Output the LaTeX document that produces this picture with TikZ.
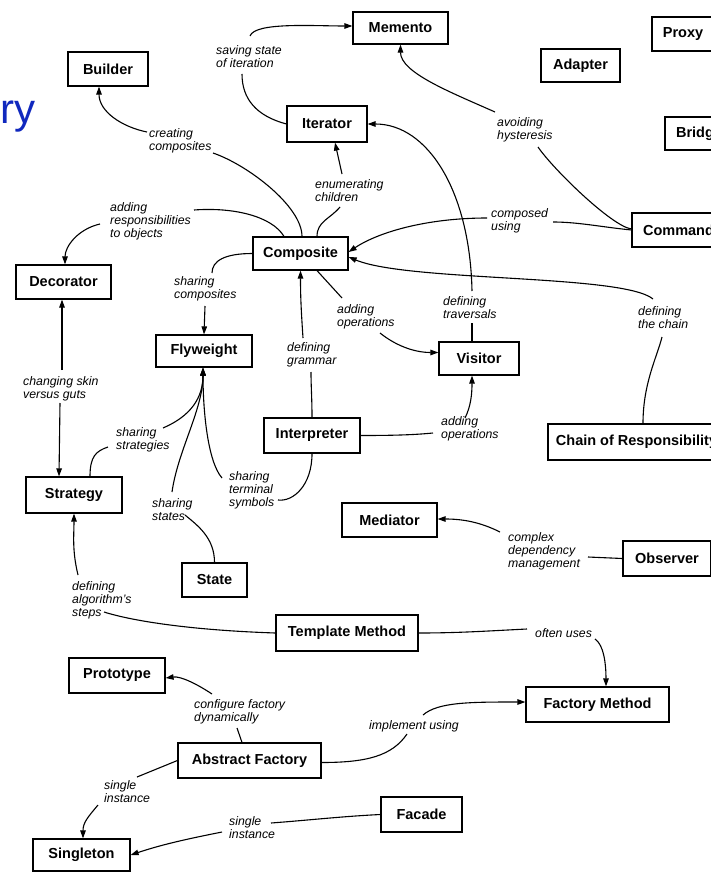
\documentclass[tikz,border=0pt]{standalone}
\usepackage{fontspec}
\setmainfont{Liberation Sans}
\usetikzlibrary{arrows.meta}
\definecolor{titleblue}{RGB}{16,40,190}
\begin{document}
\begin{tikzpicture}[x=1pt,y=-1pt,
  pat/.style={draw, line width=1.2pt, font=\bfseries\fontsize{14.5}{16}\selectfont,
              minimum height=34pt, inner sep=0pt},
  lab/.style={font=\itshape\fontsize{12.3}{13}\selectfont, align=left,
              inner sep=0pt, anchor=west},
  link/.style={line width=1.1pt},
  arr/.style={link, -{Triangle[length=8pt,width=5.5pt]}}]
\useasboundingbox (0,0) rectangle (711,872);
\clip (0,0) rectangle (711,872);

% partial heading at the left edge
\node[anchor=base west, inner sep=0pt, font=\fontsize{42}{42}\selectfont,
      text=titleblue] (ttl) at (0,124) {ry};

% ---- patterns ----
\node[pat, minimum width=95pt, minimum height=32pt] (mem)   at (400.5,28)  {Memento};
\node[pat, minimum width=62pt]                      (proxy) at (683,34)    {Proxy};
\node[pat, minimum width=79pt, minimum height=33pt] (adp)   at (580.5,65.5){Adapter};
\node[pat, minimum width=68pt, minimum height=33pt] (brg)   at (699,133.5) {Bridge};
\node[pat, minimum width=93pt]                      (cmd)   at (678.5,230) {Command};
\node[pat, minimum width=80pt]                      (bld)   at (108,69)    {Builder};
\node[pat, minimum width=80pt, minimum height=36pt] (iter)  at (327,124)   {Iterator};
\node[pat, minimum width=95pt, minimum height=33pt] (comp)  at (300.5,253.5){Composite};
\node[pat, minimum width=95pt]                      (dec)   at (63.5,282)  {Decorator};
\node[pat, minimum width=96pt, minimum height=32pt] (fly)   at (204,351)   {Flyweight};
\node[pat, minimum width=80pt, minimum height=33pt] (vis)   at (479,358.5) {Visitor};
\node[pat, minimum width=96pt, minimum height=35pt] (intp)  at (312,435.5) {Interpreter};
\node[pat, minimum width=177pt, minimum height=36pt](chain) at (636.5,442) {Chain of Responsibility};
\node[pat, minimum width=96pt, minimum height=36pt] (str)   at (74,495)    {Strategy};
\node[pat, minimum width=65pt]                      (state) at (214.5,580) {State};
\node[pat, minimum width=95pt]                      (med)   at (389.5,520) {Mediator};
\node[pat, minimum width=88pt, minimum height=35pt] (obs)   at (667,558.5) {Observer};
\node[pat, minimum width=142pt, minimum height=36pt](tm)    at (347,633)   {Template Method};
\node[pat, minimum width=96pt, minimum height=35pt] (proto) at (117,675.5) {Prototype};
\node[pat, minimum width=143pt, minimum height=35pt](fm)    at (597.5,704.5){Factory Method};
\node[pat, minimum width=143pt, minimum height=35pt](af)    at (249.5,760.5){Abstract Factory};
\node[pat, minimum width=81pt, minimum height=35pt] (fac)   at (421.5,814.5){Facade};
\node[pat, minimum width=97pt, minimum height=32pt] (sing)  at (81.5,855)  {Singleton};

% ---- relation labels ----
\node[lab] (l1)  at (216,57)  {saving state\\of iteration};
\node[lab] (l2)  at (149,141) {creating\\composites};
\node[lab] (l3)  at (315,191) {enumerating\\children};
\node[lab] (l4)  at (110,221) {adding\\responsibilities\\to objects};
\node[lab] (l5)  at (491,221) {composed\\using};
\node[lab] (l6)  at (497,130) {avoiding\\hysteresis};
\node[lab] (l7)  at (443,308) {defining\\traversals};
\node[lab] (l8)  at (638,318) {defining\\the chain};
\node[lab] (l9)  at (337,317) {adding\\operations};
\node[lab] (l10) at (441,429) {adding\\operations};
\node[lab] (l11) at (287,355) {defining\\grammar};
\node[lab] (l12) at (174,289) {sharing\\composites};
\node[lab] (l13) at (23,389)  {changing skin\\versus guts};
\node[lab] (l14) at (116,440) {sharing\\strategies};
\node[lab] (l15) at (152,510) {sharing\\states};
\node[lab] (l16) at (229,490) {sharing\\terminal\\symbols};
\node[lab] (l17) at (72,600)  {defining\\algorithm's\\steps};
\node[lab] (l18) at (535,633) {often uses};
\node[lab] (l19) at (194,712) {configure factory\\dynamically};
\node[lab] (l20) at (369,726) {implement using};
\node[lab] (l21) at (104,792) {single\\instance};
\node[lab] (l22) at (229,828) {single\\instance};
\node[lab] (l23) at (508,551) {complex\\dependency\\management};

% ---- break points where lines meet the labels ----
\coordinate (e1a) at (242,74);   \coordinate (e1b) at (250,36);
\coordinate (e2a) at (213,153);  \coordinate (e2b) at (147,132);
\coordinate (e3a) at (340,207);  \coordinate (e3b) at (342,174);
\coordinate (e4a) at (194,210);  \coordinate (e4b) at (100,224);
\coordinate (e5a) at (553,222);  \coordinate (e5b) at (487,218);
\coordinate (e6a) at (538,147);  \coordinate (e6b) at (495,112);
\coordinate (e7a) at (472,323);  \coordinate (e7b) at (472,291);
\coordinate (e8a) at (662,337);  \coordinate (e8b) at (653,299);
\coordinate (e9a) at (342,298);  \coordinate (e9b) at (380,333);
\coordinate (e10a) at (433,433); \coordinate (e10b) at (465,418);
\coordinate (e11a) at (311,372); \coordinate (e11b) at (303,338);
\coordinate (e12a) at (212,273); \coordinate (e12b) at (205,306);
\coordinate (e13a) at (62,370);  \coordinate (e13b) at (60,403);
\coordinate (e14a) at (108,447); \coordinate (e14b) at (163,428);
\coordinate (e15a) at (185,515); \coordinate (e15b) at (172,492);
\coordinate (e16a) at (278,500); \coordinate (e16b) at (222,478);
\coordinate (e17a) at (104,612); \coordinate (e17b) at (78,575);
\coordinate (e18a) at (527,629); \coordinate (e18b) at (595,639);
\coordinate (e19a) at (237,728); \coordinate (e19b) at (212,694);
\coordinate (e20a) at (407,734); \coordinate (e20b) at (423,715);
\coordinate (e21a) at (137,777); \coordinate (e21b) at (98,805);
\coordinate (e22a) at (271,823); \coordinate (e22b) at (222,832);
\coordinate (e23a) at (588,557); \coordinate (e23b) at (500,532);

% ---- relations ----
% Iterator -> Memento
\draw[link] (iter.west) .. controls +(-30,-8) and +(0,25) .. (e1a);
\draw[arr] (e1b) .. controls +(5,-14) and +(-40,0) .. ([yshift=2pt]mem.west);
% Composite -> Builder
\draw[link] ([xshift=1.5pt]comp.north) .. controls +(0,-30) and +(35,12) .. (e2a);
\draw[arr] (e2b) .. controls +(-25,-5) and +(0,25) .. ([xshift=-9pt]bld.south);
% Composite -> Iterator
\draw[link] ([xshift=16.5pt]comp.north) .. controls +(0,-15) and +(-10,12) .. (e3a);
\draw[arr] (e3b) -- ([xshift=8pt]iter.south);
% Composite -> Decorator
\draw[link] ([xshift=-16.5pt]comp.north) .. controls +(-12,-20) and +(40,-3) .. (e4a);
\draw[arr] (e4b) .. controls +(-22,5) and +(0,-18) .. ([xshift=1.5pt]dec.north);
% Command -> Composite
\draw[link] (cmd.west) .. controls +(-30,-3) and +(25,0) .. (e5a);
\draw[arr] (e5b) .. controls +(-60,0) and +(30,-20) .. ([yshift=1.5pt]comp.east);
% Command -> Memento
\draw[link] ([yshift=1pt]cmd.west) .. controls +(-20,-3) and +(15,22) .. (e6a);
\draw[arr] (e6b) .. controls +(-45,-20) and +(0,28) .. (mem.south);
% Visitor -> Iterator
\draw[link] ([xshift=-7pt]vis.north) -- (e7a);
\draw[arr] (e7b) .. controls +(-2,-100) and +(60,0) .. (iter.east);
% Chain of Responsibility -> Composite
\draw[link] ([xshift=6.5pt]chain.north) .. controls +(0,-40) and +(-5,20) .. (e8a);
\draw[arr] (e8b) .. controls +(-30,-25) and +(60,25) .. ([yshift=-3.5pt]comp.east);
% Composite -> Visitor
\draw[link] ([xshift=16.5pt]comp.south) -- (e9a);
\draw[arr] (e9b) .. controls +(15,12) and +(-25,0) .. ([yshift=6pt]vis.west);
% Interpreter -> Visitor
\draw[link] (intp.east) .. controls +(30,0) and +(-20,2) .. (e10a);
\draw[arr] (e10b) .. controls +(6,-12) and +(0,18) .. ([xshift=-7pt]vis.south);
% Interpreter -> Composite
\draw[link] (intp.north) .. controls +(0,-20) and +(0,15) .. (e11a);
\draw[arr] (e11b) .. controls +(-2,-30) and +(0,25) .. (comp.south);
% Composite -> Flyweight
\draw[link] (comp.west) .. controls +(-28,0) and +(0,-12) .. (e12a);
\draw[arr] (e12b) -- (fly.north);
% Decorator <-> Strategy
\draw[arr] (e13a) -- ([xshift=-1.5pt]dec.south);
\draw[arr] (e13b) -- ([xshift=-15pt]str.north);
% Strategy -> Flyweight
\draw[link] ([xshift=16pt]str.north) .. controls +(0,-20) and +(-12,4) .. (e14a);
\draw[arr] (e14b) .. controls +(28,-12) and +(0,30) .. ([xshift=-1pt]fly.south);
% State -> Flyweight
\draw[link] (state.north) .. controls +(0,-25) and +(12,10) .. (e15a);
\draw[arr] (e15b) .. controls +(6,-42) and +(0,42) .. ([xshift=-1pt]fly.south);
% Interpreter -> Flyweight
\draw[link] (intp.south) .. controls +(0,32) and +(15,2) .. (e16a);
\draw[arr] (e16b) .. controls +(-14,-16) and +(0,45) .. ([xshift=-1pt]fly.south);
% Template Method -> Strategy
\draw[link] (tm.west) .. controls +(-90,-3) and +(25,8) .. (e17a);
\draw[arr] (e17b) .. controls +(-6,-25) and +(0,22) .. (str.south);
% Template Method -> Factory Method
\draw[link] (tm.east) .. controls +(40,0) and +(-40,2) .. (e18a);
\draw[arr] (e18b) .. controls +(9,6) and +(0,-22) .. ([xshift=8.5pt]fm.north);
% Abstract Factory -> Prototype
\draw[link] ([xshift=-7.5pt]af.north) -- (e19a);
\draw[arr] (e19b) .. controls +(-15,-10) and +(15,-2) .. ([yshift=-2.5pt]proto.east);
% Abstract Factory -> Factory Method
\draw[link] ([yshift=-2pt]af.east) .. controls +(45,0) and +(-15,22) .. (e20a);
\draw[arr] (e20b) .. controls +(15,-13) and +(-55,0) .. ([yshift=2.5pt]fm.west);
% Abstract Factory -> Singleton
\draw[link] (af.west) -- (e21a);
\draw[arr] (e21b) .. controls +(-10,12) and +(0,-16) .. ([xshift=1.5pt]sing.north);
% Facade -> Singleton
\draw[link] (fac.west) .. controls +(-40,2) and +(40,-3) .. (e22a);
\draw[arr] (e22b) .. controls +(-40,8) and +(30,-10) .. (sing.east);
% Observer -> Mediator
\draw[link] (obs.west) -- (e23a);
\draw[arr] (e23b) .. controls +(-20,-10) and +(25,0) .. ([yshift=1pt]med.east);
\end{tikzpicture}
\end{document}
